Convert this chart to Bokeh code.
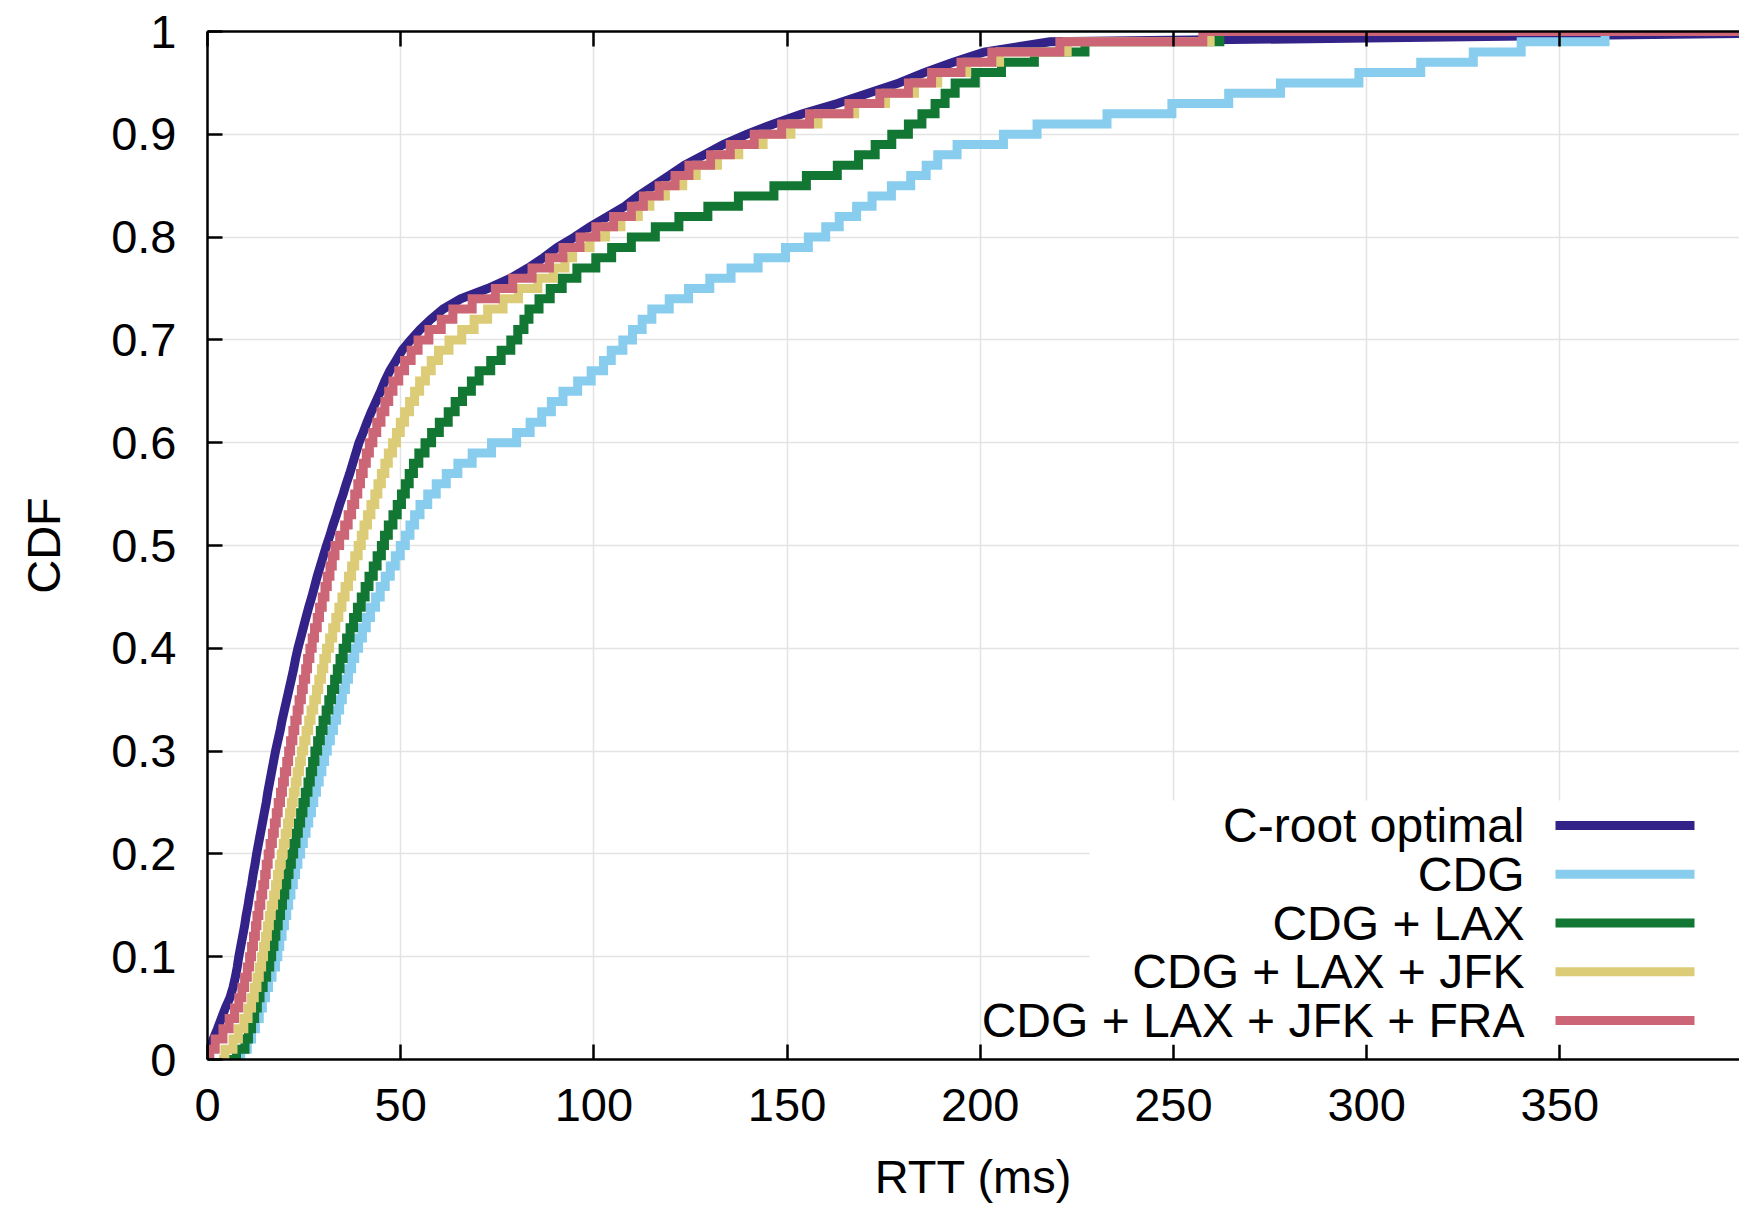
from bokeh.plotting import figure
from bokeh.models import Range1d, LinearAxis, FixedTicker, Label, BoxAnnotation
from bokeh.embed import file_html
from bokeh.resources import INLINE

# ---------------- data ----------------
series_names = ["C-root optimal", "CDG", "CDG + LAX", "CDG + LAX + JFK", "CDG + LAX + JFK + FRA"]
series_colors = ["#332288", "#88CCEE", "#117733", "#DDCC77", "#CC6677"]

# CDF levels (percentiles 0..100)
cdf_levels = [i / 100 for i in range(101)]

# RTT (ms) at each percentile
croot_rtt = [0.0, 0.6, 1.5, 2.6, 3.6, 4.6, 5.8, 6.6, 7.2, 7.7,
             8.1, 8.6, 9.1, 9.6, 10.0, 10.5, 10.9, 11.4, 11.8, 12.3,
             12.7, 13.2, 13.7, 14.2, 14.7, 15.2, 15.6, 16.1, 16.6, 17.1,
             17.6, 18.2, 18.8, 19.3, 19.9, 20.5, 21.1, 21.7, 22.3, 22.8,
             23.4, 24.1, 24.8, 25.5, 26.2, 27.0, 27.7, 28.4, 29.2, 30.0,
             30.8, 31.7, 32.5, 33.4, 34.2, 35.1, 35.9, 36.8, 37.6, 38.4,
             39.2, 40.3, 41.3, 42.4, 43.6, 44.8, 45.9, 47.2, 48.8, 50.4,
             52.6, 55.0, 57.8, 61.0, 65.5, 72.5, 78.5, 83.0, 87.0, 90.5,
             95.0, 99.0, 103.5, 108.0, 111.5, 115.5, 119.5, 123.5, 128.5, 133.5,
             139.5, 146.5, 154.0, 163.0, 171.0, 179.0, 185.5, 193.0, 201.0, 218.0,
             440.0]

cdg_rtt = [7.0, 8.6, 10.3, 11.4, 12.4, 13.4, 14.2, 15.0, 15.8, 16.7,
           17.6, 18.2, 18.7, 19.3, 19.9, 20.5, 21.0, 21.6, 22.2, 22.8,
           23.4, 24.1, 24.8, 25.5, 26.2, 26.9, 27.5, 28.2, 28.9, 29.6,
           30.3, 31.0, 31.8, 32.6, 33.4, 34.2, 34.9, 35.7, 36.5, 37.3,
           38.1, 39.1, 40.1, 41.1, 42.2, 43.5, 44.7, 46.0, 47.3, 48.6,
           49.9, 51.2, 52.4, 53.6, 55.0, 57.0, 59.2, 61.8, 64.8, 68.5,
           73.5, 80.0, 83.5, 86.5, 89.0, 92.0, 95.8, 99.3, 102.5, 104.5,
           107.5, 110.0, 112.5, 115.0, 119.5, 124.5, 130.0, 135.5, 142.5, 149.6,
           155.5, 160.0, 163.5, 168.0, 172.0, 177.0, 182.0, 186.0, 189.0, 194.0,
           206.0, 214.7, 232.8, 249.6, 264.3, 277.7, 298.0, 314.0, 327.6, 340.0,
           361.7]

cdg_lax_rtt = [5.5, 7.5, 9.7, 10.6, 11.4, 12.2, 12.9, 13.6, 14.4, 15.3,
               16.1, 16.6, 17.2, 17.7, 18.3, 18.9, 19.4, 20.0, 20.5, 21.1,
               21.7, 22.3, 22.9, 23.5, 24.1, 24.7, 25.3, 26.0, 26.6, 27.2,
               27.8, 28.5, 29.2, 29.9, 30.7, 31.4, 32.1, 32.9, 33.6, 34.3,
               35.1, 36.0, 36.9, 37.8, 38.8, 39.8, 40.8, 41.8, 42.9, 43.9,
               45.0, 45.8, 46.8, 48.0, 49.1, 50.2, 51.2, 52.2, 53.3, 54.7,
               56.3, 58.0, 60.0, 62.3, 64.1, 66.0, 68.3, 70.3, 73.3, 76.0,
               78.5, 80.3, 81.9, 83.2, 85.8, 88.7, 91.8, 95.6, 100.5, 104.6,
               109.7, 115.9, 122.0, 129.5, 137.4, 146.6, 155.0, 163.0, 168.5, 172.8,
               177.1, 181.4, 184.9, 188.3, 190.9, 193.5, 198.7, 205.5, 214.0, 227.1,
               262.0]

cdg_lax_jfk_rtt = [3.0, 4.5, 6.6, 8.0, 9.4, 10.5, 11.4, 12.1, 12.8, 13.4,
                   14.0, 14.5, 15.0, 15.5, 16.0, 16.5, 17.1, 17.6, 18.1, 18.6,
                   19.1, 19.6, 20.1, 20.7, 21.2, 21.7, 22.2, 22.7, 23.2, 23.8,
                   24.3, 24.9, 25.5, 26.2, 26.8, 27.5, 28.2, 28.8, 29.5, 30.1,
                   30.8, 31.6, 32.4, 33.2, 34.0, 34.8, 35.6, 36.5, 37.3, 38.1,
                   39.0, 39.8, 40.5, 41.4, 42.3, 43.3, 44.1, 45.0, 45.9, 46.8,
                   47.9, 48.9, 49.9, 51.0, 52.3, 53.6, 54.9, 56.4, 57.9, 59.8,
                   62.5, 65.8, 69.0, 72.5, 76.5, 80.5, 85.5, 89.5, 92.5, 94.5,
                   99.0, 103.0, 107.0, 111.5, 114.5, 118.5, 123.0, 126.5, 132.0, 137.5,
                   143.8, 151.0, 158.0, 167.5, 175.5, 183.0, 189.0, 196.5, 205.0, 222.5,
                   259.5]

cdg_lax_jfk_fra_rtt = [0.3, 0.6, 2.0, 4.0, 5.6, 7.0, 8.1, 8.9, 9.6, 10.3,
                       10.9, 11.4, 11.9, 12.4, 12.8, 13.3, 13.8, 14.3, 14.8, 15.2,
                       15.7, 16.2, 16.8, 17.3, 17.8, 18.3, 18.9, 19.4, 19.9, 20.5,
                       21.0, 21.5, 22.1, 22.6, 23.2, 23.7, 24.3, 24.8, 25.4, 25.9,
                       26.5, 27.1, 27.7, 28.4, 29.0, 29.7, 30.4, 31.0, 31.7, 32.3,
                       33.0, 34.2, 35.5, 36.4, 37.3, 38.1, 38.9, 39.6, 40.3, 41.1,
                       41.9, 42.8, 43.8, 44.9, 45.9, 46.9, 48.0, 49.5, 51.0, 52.7,
                       54.5, 57.3, 60.5, 63.5, 68.5, 74.5, 79.0, 84.0, 88.5, 92.0,
                       96.4, 100.5, 105.1, 109.7, 112.8, 116.9, 121.0, 124.6, 130.2, 135.3,
                       141.5, 148.6, 155.8, 166.0, 174.0, 181.4, 187.4, 195.0, 203.0, 220.6,
                       257.6]

x_ticks = [0, 50, 100, 150, 200, 250, 300, 350]
y_ticks = [0, 0.1, 0.2, 0.3, 0.4, 0.5, 0.6, 0.7, 0.8, 0.9, 1]
y_tick_labels = ["0", "0.1", "0.2", "0.3", "0.4", "0.5", "0.6", "0.7", "0.8", "0.9", "1"]
x_title = "RTT (ms)"
y_title = "CDF"

# ---------------- style / layout ----------------
X_MAX = 396.5
FONT = "Liberation Sans"
TICK_FS = "47px"
LEGEND_FS = "48px"
LW = 9

p = figure(width=1739, height=1205,
           min_border_left=207, min_border_right=0, min_border_top=31, min_border_bottom=145,
           x_range=Range1d(0, X_MAX), y_range=Range1d(0, 1),
           output_backend="svg", toolbar_location=None)
p.outline_line_color = None
p.background_fill_color = "white"
p.border_fill_color = "white"

top_axis = LinearAxis(ticker=FixedTicker(ticks=x_ticks))
p.add_layout(top_axis, "above")

bottom_axis = p.below[0]
left_axis = p.left[0]
for ax in (bottom_axis, left_axis, top_axis):
    ax.axis_line_width = 2.5
    ax.axis_line_color = "black"
    ax.major_tick_line_width = 2.5
    ax.major_tick_line_color = "black"
    ax.major_tick_in = 15
    ax.major_tick_out = 0
    ax.minor_tick_line_color = None
    ax.major_label_text_font = FONT
    ax.major_label_text_font_size = TICK_FS
    ax.major_label_text_color = "black"
    ax.axis_label_text_font = FONT
    ax.axis_label_text_font_size = TICK_FS
    ax.axis_label_text_font_style = "normal"
    ax.axis_label_text_color = "black"

bottom_axis.ticker = FixedTicker(ticks=x_ticks)
bottom_axis.major_label_standoff = 29
bottom_axis.axis_label = x_title
bottom_axis.axis_label_standoff = 26
bottom_axis.axis_label_text_line_height = 0.75

top_axis.major_label_text_font_size = "1px"
top_axis.major_label_text_alpha = 0
top_axis.major_label_standoff = 0
top_axis.axis_label = None

left_axis.ticker = FixedTicker(ticks=y_ticks)
left_axis.major_label_overrides = dict(zip(y_ticks, y_tick_labels))
left_axis.major_label_standoff = 31
left_axis.axis_label = y_title
left_axis.axis_label_standoff = 38

p.xgrid.ticker = FixedTicker(ticks=x_ticks)
p.ygrid.ticker = FixedTicker(ticks=y_ticks)
for g in (p.xgrid[0], p.ygrid[0]):
    g.grid_line_color = "#e3e3e3"
    g.grid_line_width = 1.5

# ---------------- curves ----------------
# drawing order as in the original: C-root first, FRA on top
p.line(croot_rtt, cdf_levels, line_width=LW, color=series_colors[0], line_join="miter")
step_series = [cdg_rtt, cdg_lax_rtt, cdg_lax_jfk_rtt, cdg_lax_jfk_fra_rtt]
for vals, col in zip(step_series, series_colors[1:]):
    xs = list(vals) + [X_MAX]
    ys = list(cdf_levels) + [1.0]
    p.step(xs, ys, mode="after", line_width=LW, color=col, line_join="miter")

# ---------------- legend (manual, text right-aligned left of sample) ----------------
p.add_layout(BoxAnnotation(left=882, right=1540, bottom=15, top=259,
                           left_units="screen", right_units="screen",
                           bottom_units="screen", top_units="screen",
                           fill_color="white", fill_alpha=1.0, line_color=None))
row_center0 = 234.0
row_gap = 48.75
for i, (name, col) in enumerate(zip(series_names, series_colors)):
    yc = row_center0 - i * row_gap
    p.add_layout(BoxAnnotation(left=1348, right=1487, bottom=yc - 4.5, top=yc + 4.5,
                               left_units="screen", right_units="screen",
                               bottom_units="screen", top_units="screen",
                               fill_color=col, fill_alpha=1.0, line_color=None))
    p.add_layout(Label(x=1317, y=yc, x_units="screen", y_units="screen",
                       text=name, text_align="right", text_baseline="alphabetic",
                       text_font=FONT, text_font_size=LEGEND_FS, text_color="black"))

open("out.html", "w").write(file_html(p, INLINE))
